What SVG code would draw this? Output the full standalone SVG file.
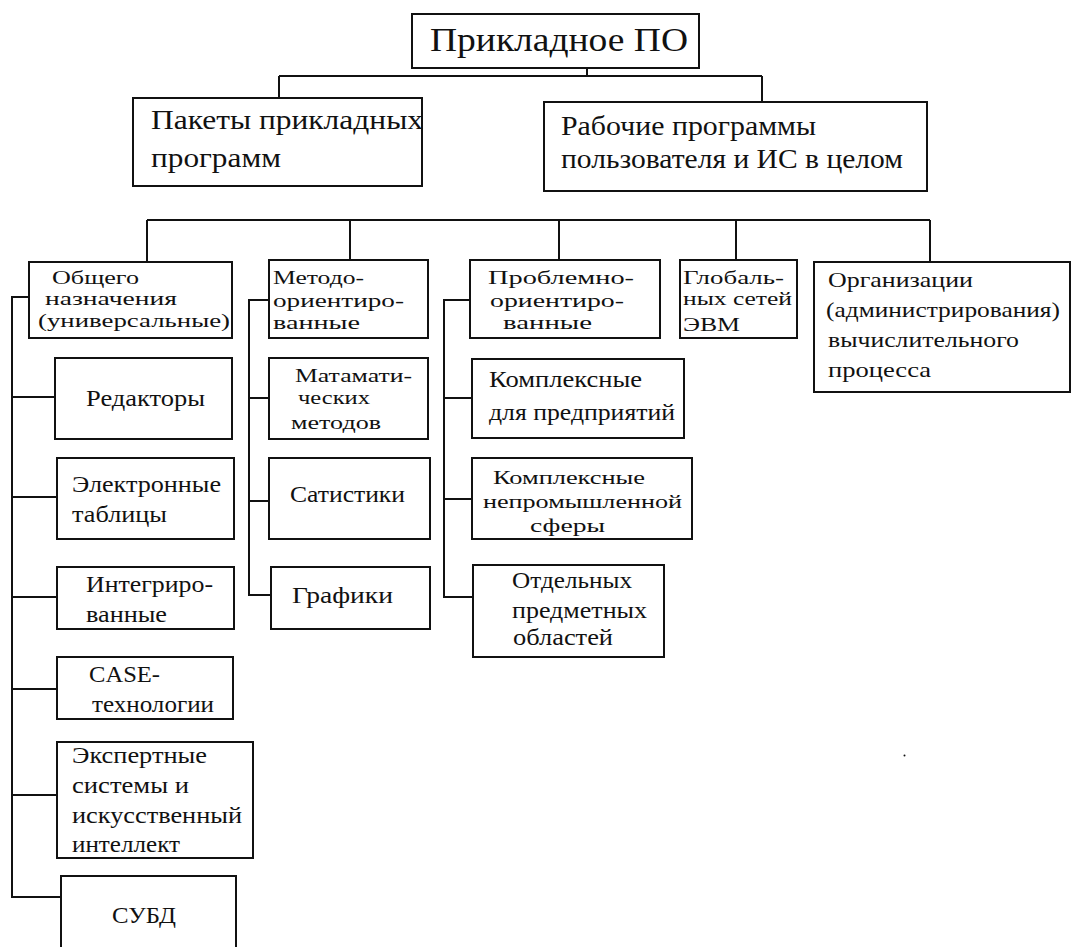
<svg xmlns="http://www.w3.org/2000/svg" width="1071" height="947" viewBox="0 0 1071 947" font-family="'Liberation Serif', 'DejaVu Serif', serif">
<style>
rect.b{fill:#fff;stroke:#111;stroke-width:2}
.c path{fill:none;stroke:#111;stroke-width:2}
text{fill:#111}
.t0{font-size:33px}
.t1{font-size:28px}
.t2{font-size:18px}
.t3{font-size:22px}
.t4{font-size:24px}
.t5{font-size:19px}
</style>
<rect width="1071" height="947" fill="#fff"/>
<g class="c" id="connectors">
<path d="M587,68 V76 M279,76 H762 M279,76 V98 M762,76 V102"/>
<path d="M147,220 H930 M147,220 V262 M350,220 V260 M559,220 V260 M736,220 V260 M930,220 V262"/>
<path d="M29,297 H12 V897 H61 M12,397 H55 M12,497 H57 M12,597 H57 M12,689 H57 M12,795 H57"/>
<path d="M269,300 H249 V595 H271 M249,398 H269 M249,501 H269"/>
<path d="M470,300 H444 V597 H473 M444,398 H472 M444,499 H472"/>
</g>
<g id="root"><rect class="b" x="412" y="14" width="287" height="54"/>
<text class="t0" x="430" y="51" textLength="258" lengthAdjust="spacingAndGlyphs">Прикладное ПО</text></g>
<g id="packages"><rect class="b" x="133" y="98" width="289" height="88"/>
<text class="t1" x="151" y="129" textLength="272" lengthAdjust="spacingAndGlyphs">Пакеты прикладных</text>
<text class="t1" x="151" y="167" textLength="130" lengthAdjust="spacingAndGlyphs">программ</text></g>
<g id="user"><rect class="b" x="544" y="102" width="383" height="89"/>
<text class="t1" x="561" y="135" textLength="255" lengthAdjust="spacingAndGlyphs">Рабочие программы</text>
<text class="t1" x="561" y="168" textLength="342" lengthAdjust="spacingAndGlyphs">пользователя и ИС в целом</text></g>
<g id="general"><rect class="b" x="29" y="262" width="203" height="76"/>
<text class="t2" x="52" y="284" textLength="87" lengthAdjust="spacingAndGlyphs">Общего</text>
<text class="t2" x="45" y="305" textLength="132" lengthAdjust="spacingAndGlyphs">назначения</text>
<text class="t2" x="38" y="327" textLength="192" lengthAdjust="spacingAndGlyphs">(универсальные)</text></g>
<g id="method"><rect class="b" x="269" y="260" width="159" height="78"/>
<text class="t2" x="273" y="284" textLength="91" lengthAdjust="spacingAndGlyphs">Методо-</text>
<text class="t2" x="273" y="307" textLength="131" lengthAdjust="spacingAndGlyphs">ориентиро-</text>
<text class="t2" x="273" y="329" textLength="87" lengthAdjust="spacingAndGlyphs">ванные</text></g>
<g id="problem"><rect class="b" x="470" y="260" width="190" height="78"/>
<text class="t2" x="488" y="284" textLength="146" lengthAdjust="spacingAndGlyphs">Проблемно-</text>
<text class="t2" x="490" y="307" textLength="134" lengthAdjust="spacingAndGlyphs">ориентиро-</text>
<text class="t2" x="503" y="329" textLength="89" lengthAdjust="spacingAndGlyphs">ванные</text></g>
<g id="global"><rect class="b" x="680" y="260" width="117" height="78"/>
<text class="t2" x="683" y="284" textLength="101" lengthAdjust="spacingAndGlyphs">Глобаль-</text>
<text class="t2" x="683" y="305" textLength="109" lengthAdjust="spacingAndGlyphs">ных сетей</text>
<text class="t2" x="683" y="331" textLength="57" lengthAdjust="spacingAndGlyphs">ЭВМ</text></g>
<g id="admin"><rect class="b" x="814" y="262" width="256" height="130"/>
<text class="t3" x="828" y="287" textLength="145" lengthAdjust="spacingAndGlyphs">Организации</text>
<text class="t3" x="826" y="317" textLength="234" lengthAdjust="spacingAndGlyphs">(администрирования)</text>
<text class="t3" x="828" y="347" textLength="191" lengthAdjust="spacingAndGlyphs">вычислительного</text>
<text class="t3" x="828" y="377" textLength="103" lengthAdjust="spacingAndGlyphs">процесса</text></g>
<g id="editors"><rect class="b" x="55" y="358" width="177" height="81"/>
<text class="t4" x="86" y="406" textLength="119" lengthAdjust="spacingAndGlyphs">Редакторы</text></g>
<g id="spreadsheets"><rect class="b" x="57" y="458" width="177" height="81"/>
<text class="t4" x="72" y="492" textLength="149" lengthAdjust="spacingAndGlyphs">Электронные</text>
<text class="t4" x="72" y="522" textLength="95" lengthAdjust="spacingAndGlyphs">таблицы</text></g>
<g id="integrated"><rect class="b" x="57" y="567" width="177" height="62"/>
<text class="t4" x="86" y="592" textLength="127" lengthAdjust="spacingAndGlyphs">Интегриро-</text>
<text class="t4" x="86" y="622" textLength="81" lengthAdjust="spacingAndGlyphs">ванные</text></g>
<g id="case"><rect class="b" x="57" y="657" width="176" height="62"/>
<text class="t4" x="89" y="682" textLength="71" lengthAdjust="spacingAndGlyphs">CASE-</text>
<text class="t4" x="92" y="712" textLength="122" lengthAdjust="spacingAndGlyphs">технологии</text></g>
<g id="expert"><rect class="b" x="57" y="742" width="196" height="116"/>
<text class="t4" x="72" y="763" textLength="135" lengthAdjust="spacingAndGlyphs">Экспертные</text>
<text class="t4" x="72" y="793" textLength="117" lengthAdjust="spacingAndGlyphs">системы и</text>
<text class="t4" x="72" y="823" textLength="170" lengthAdjust="spacingAndGlyphs">искусственный</text>
<text class="t4" x="72" y="852" textLength="108" lengthAdjust="spacingAndGlyphs">интеллект</text></g>
<g id="dbms"><rect class="b" x="61" y="876" width="175" height="90"/>
<text class="t4" x="112" y="923" textLength="64" lengthAdjust="spacingAndGlyphs">СУБД</text></g>
<g id="math"><rect class="b" x="269" y="358" width="159" height="81"/>
<text class="t5" x="295" y="382" textLength="117" lengthAdjust="spacingAndGlyphs">Матамати-</text>
<text class="t5" x="298" y="404" textLength="72" lengthAdjust="spacingAndGlyphs">ческих</text>
<text class="t5" x="291" y="429" textLength="90" lengthAdjust="spacingAndGlyphs">методов</text></g>
<g id="stats"><rect class="b" x="269" y="458" width="161" height="81"/>
<text class="t4" x="290" y="502" textLength="115" lengthAdjust="spacingAndGlyphs">Сатистики</text></g>
<g id="graphics"><rect class="b" x="271" y="567" width="159" height="62"/>
<text class="t4" x="292" y="603" textLength="101" lengthAdjust="spacingAndGlyphs">Графики</text></g>
<g id="enterprise"><rect class="b" x="472" y="359" width="212" height="79"/>
<text class="t4" x="489" y="387" textLength="153" lengthAdjust="spacingAndGlyphs">Комплексные</text>
<text class="t4" x="489" y="420" textLength="186" lengthAdjust="spacingAndGlyphs">для предприятий</text></g>
<g id="nonindustrial"><rect class="b" x="472" y="458" width="220" height="81"/>
<text class="t5" x="493" y="484" textLength="152" lengthAdjust="spacingAndGlyphs">Комплексные</text>
<text class="t5" x="483" y="508" textLength="199" lengthAdjust="spacingAndGlyphs">непромышленной</text>
<text class="t5" x="530" y="532" textLength="75" lengthAdjust="spacingAndGlyphs">сферы</text></g>
<g id="domains"><rect class="b" x="473" y="565" width="191" height="92"/>
<text class="t4" x="512" y="588" textLength="120" lengthAdjust="spacingAndGlyphs">Отдельных</text>
<text class="t4" x="512" y="618" textLength="135" lengthAdjust="spacingAndGlyphs">предметных</text>
<text class="t4" x="513" y="645" textLength="100" lengthAdjust="spacingAndGlyphs">областей</text></g>
<circle cx="904.5" cy="755.5" r="1" fill="#111"/>
</svg>
